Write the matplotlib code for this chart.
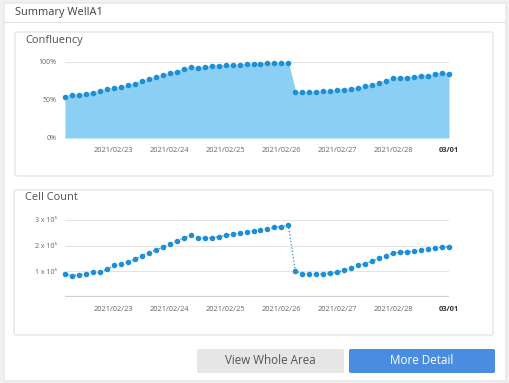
import matplotlib
matplotlib.use("Agg")
import matplotlib.pyplot as plt
import matplotlib.dates as mdates
from matplotlib.patches import FancyBboxPatch, Rectangle
import pandas as pd

plt.rcParams['font.family'] = ['Open Sans', 'DejaVu Sans']

# ---- data ----
title = "Summary WellA1"
times = pd.date_range("2021-02-22 03:00", "2021-03-01 00:00", freq="3h")
confluency = [54.4, 56.6, 56.6, 58.3, 59.6, 61.4, 64.0, 65.4, 66.7, 69.3,
              71.0, 74.6, 77.2, 79.8, 82.5, 85.1, 87.3, 90.4, 93.0, 92.1,
              93.4, 94.3, 95.2, 95.6, 96.0, 96.0, 97.0, 97.4, 98.0, 98.3,
              98.5, 98.7, 98.7,
              61.0, 60.1, 60.1, 61.0, 61.4, 61.8, 63.2, 63.6, 64.9, 65.8,
              68.0, 69.7, 72.4, 75.4, 78.5, 79.4, 79.4, 80.3, 82.0, 82.0,
              83.8, 85.5, 84.6]
cell_count = [88000, 83000, 86000, 90000, 96000, 96000, 108000, 123000, 129000, 135000,
              147000, 160000, 173000, 182000, 194000, 206000, 218000, 230000, 240000, 231000,
              230000, 231000, 235000, 240000, 245000, 248000, 253000, 257000, 262000, 265000,
              271000, 274000, 279000,
              100000, 91000, 88000, 88000, 91000, 92000, 96000, 105000, 113000, 123000,
              130000, 139000, 153000, 161000, 170000, 175000, 175000, 178000, 183000, 187000,
              190000, 194000, 196000]
tick_dates = pd.to_datetime(["2021-02-23", "2021-02-24", "2021-02-25", "2021-02-26",
                             "2021-02-27", "2021-02-28", "2021-03-01"])
tick_labels = ["2021/02/23", "2021/02/24", "2021/02/25", "2021/02/26",
               "2021/02/27", "2021/02/28", "03/01"]
conf_yticks = [0, 50, 100]
conf_ylabels = ["0%", "50%", "100%"]
cell_yticks = [100000, 200000, 300000]
cell_ylabels = ["1 x 10\u2075", "2 x 10\u2075", "3 x 10\u2075"]

W, H = 510, 383
fig = plt.figure(figsize=(W / 100, H / 100), dpi=100)
fig.patch.set_facecolor("#f0f0f0")


def fbox(l, t, r, b):
    return [l / W, 1 - b / H, (r - l) / W, (b - t) / H]


def frect(l, t, r, b, fc, ec="none", lw=0.8, rad=0.0):
    x, y, w, h = fbox(l, t, r, b)
    p = FancyBboxPatch((x, y), w, h, boxstyle=f"round,pad=0,rounding_size={rad}",
                       transform=fig.transFigure, facecolor=fc, edgecolor=ec,
                       linewidth=lw, zorder=-5)
    fig.patches.append(p)


# outer card
frect(4, 3, 506, 381, "white", "#e2e2e2", 0.8)
# header separator
fig.add_artist(plt.Line2D([4 / W, 506 / W], [1 - 22 / H, 1 - 22 / H],
                          transform=fig.transFigure, color="#e4e4e4", lw=0.8, zorder=-4))
fig.text(15 / W, 1 - 12 / H, title, fontsize=7.9, color="#404040",
         va="center", ha="left")

# panels
frect(15, 32, 493, 176, "white", "#e0e0e0", 0.8, 0.004)
frect(14, 190, 493, 335, "white", "#e0e0e0", 0.8, 0.004)
fig.text(25 / W, 1 - 40 / H, "Confluency", fontsize=7.9, color="#505050", va="center")
fig.text(25 / W, 1 - 198 / H, "Cell Count", fontsize=7.9, color="#505050", va="center")

blue_pt = "#1d8fd6"
fill_c = "#8ccff4"
grid_c = "#e4e4e4"
tick_c = "#666666"


def style_axes(ax):
    ax.set_zorder(5)
    for s in ax.spines.values():
        s.set_visible(False)
    ax.set_facecolor("none")
    ax.patch.set_alpha(0)
    ax.tick_params(axis="both", length=0, colors=tick_c)
    ax.tick_params(axis="x", pad=6.5, labelsize=5.4)
    ax.tick_params(axis="y", pad=6, labelsize=5.0)
    ax.set_xlim(times[0], times[-1])
    ax.set_xticks(tick_dates)
    ax.set_xticklabels(tick_labels)
    lbls = ax.get_xticklabels()
    lbls[-1].set_fontweight("bold")
    lbls[-1].set_color("#333333")
    ax.grid(axis="y", color=grid_c, lw=0.8)
    ax.set_axisbelow(True)


# Confluency
ax1 = fig.add_axes(fbox(65, 62, 449, 138))
style_axes(ax1)
ax1.set_ylim(0, 100)
ax1.set_yticks(conf_yticks)
ax1.set_yticklabels(conf_ylabels)
ax1.fill_between(times, confluency, 0, color=fill_c, lw=0, zorder=1)
ax1.plot(times, confluency, color=fill_c, lw=0.8, zorder=2)
ax1.plot(times, confluency, "o", color=blue_pt, ms=4.0, mew=0, zorder=3, clip_on=False)

# Cell count
ax2 = fig.add_axes(fbox(65, 220, 449, 297))
style_axes(ax2)
ax2.set_ylim(0, 300000)
ax2.set_yticks(cell_yticks)
ax2.set_yticklabels(cell_ylabels)
ax2.axhline(0, color="#d0d0d0", lw=1.6, zorder=1)
ax2.plot(times, cell_count, ":", color=blue_pt, lw=0.9, zorder=2)
ax2.plot(times, cell_count, "o", color=blue_pt, ms=4.0, mew=0, zorder=3, clip_on=False)

# buttons
frect(197, 349, 344, 373, "#e6e6e6", "none", 0, 0.004)
frect(349, 349, 495, 373, "#4a8de0", "none", 0, 0.004)
fig.text((197 + 344) / 2 / W, 1 - 361 / H, "View Whole Area", fontsize=8.4,
         color="#555555", ha="center", va="center")
fig.text((349 + 495) / 2 / W, 1 - 361 / H, "More Detail", fontsize=8.4,
         color="white", ha="center", va="center")

fig.savefig("out.png", dpi=100, facecolor=fig.get_facecolor())
